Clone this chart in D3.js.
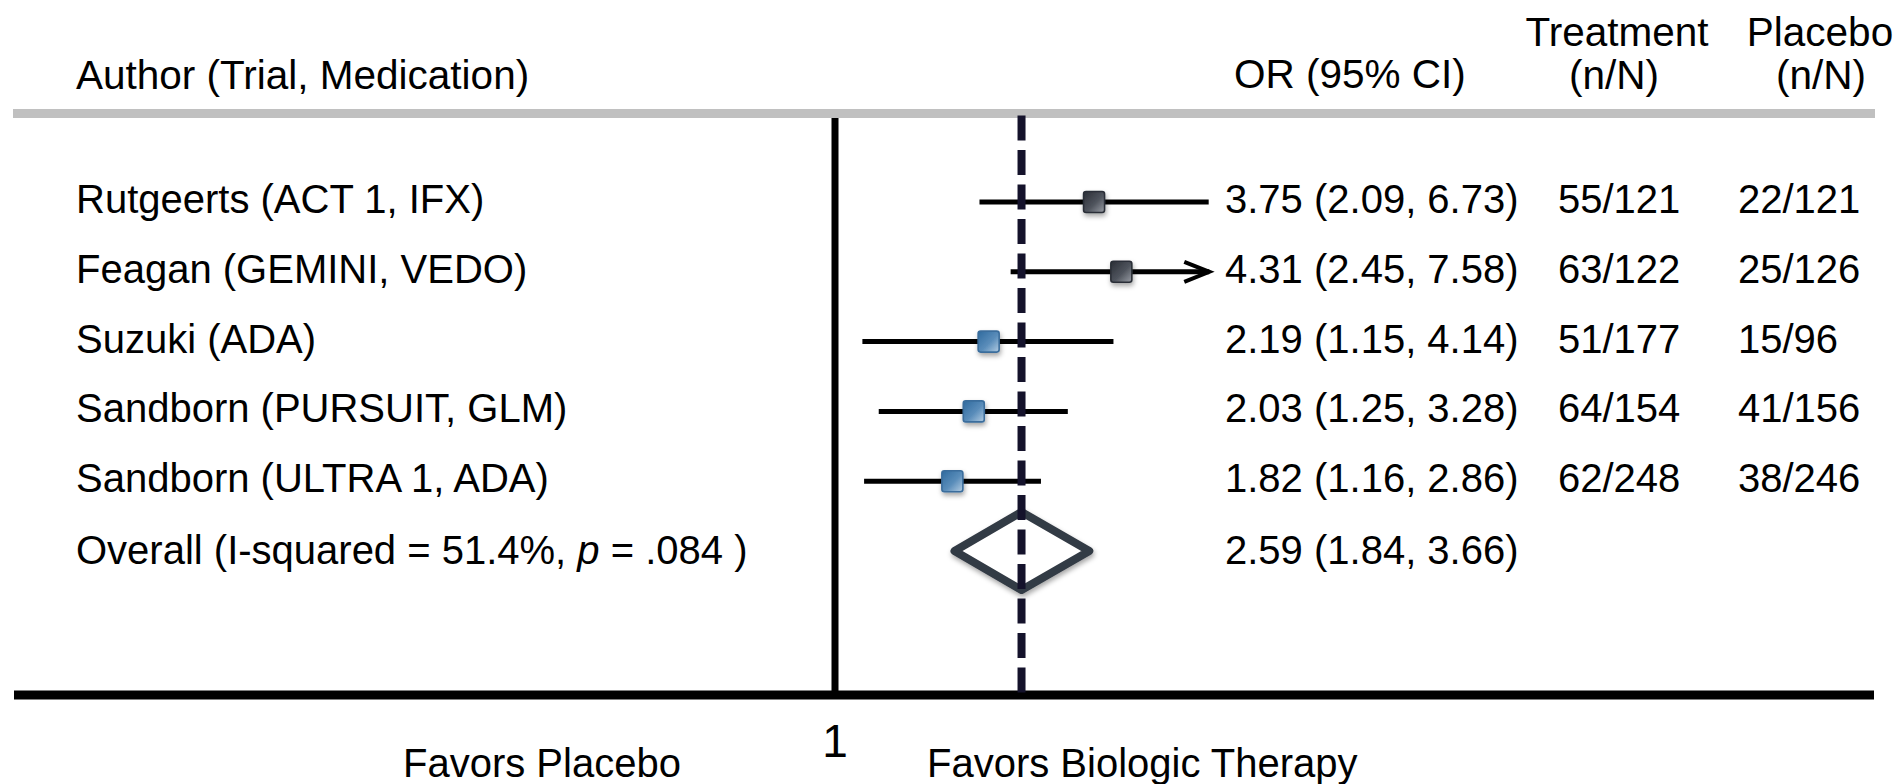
<!DOCTYPE html>
<html>
<head>
<meta charset="utf-8">
<script src="https://cdn.jsdelivr.net/npm/d3@7"></script>
<style>
  html, body { margin: 0; padding: 0; background: #fff; }
  svg { display: block; }
  text { font-family: "Liberation Sans", Arial, Helvetica, sans-serif; fill: #000; }
</style>
</head>
<body>
<svg id="chart" width="1898" height="784"></svg>
<script>
// ---------------- data ----------------
const authors = [
  "Rutgeerts (ACT 1, IFX)",
  "Feagan (GEMINI, VEDO)",
  "Suzuki (ADA)",
  "Sandborn (PURSUIT, GLM)",
  "Sandborn (ULTRA 1, ADA)"
];
const oddsRatios = [3.75, 4.31, 2.19, 2.03, 1.82];
const ciLower    = [2.09, 2.45, 1.15, 1.25, 1.16];
const ciUpper    = [6.73, 7.58, 4.14, 3.28, 2.86];
const treatEvents   = [55, 63, 51, 64, 62];
const treatTotal    = [121, 122, 177, 154, 248];
const placeboEvents = [22, 25, 15, 41, 38];
const placeboTotal  = [121, 126, 96, 156, 246];
const markerKind = ["dark", "dark", "blue", "blue", "blue"];

const overallOR = 2.59, overallLower = 1.84, overallUpper = 3.66;
const iSquared = "51.4%";
const pValue = ".084";

const axisTicks = [1];
const axisMax = 6.75;   // display limit; intervals beyond get an arrow

const headers = {
  study: "Author (Trial, Medication)",
  or: "OR (95% CI)",
  treat: ["Treatment", "(n/N)"],
  placebo: ["Placebo", "(n/N)"]
};
const favorsLeft = "Favors Placebo";
const favorsRight = "Favors Biologic Therapy";

// ---------------- layout ----------------
const svg = d3.select("#chart");
const x = d3.scaleLog().domain([1, axisMax]).range([835, 835 + 196 * Math.log(axisMax)]);
const y = d3.scaleLinear().domain([0, authors.length]).range([202, 551]);
const fmt = d3.format(".2f");

const defs = svg.append("defs");
const shadow = defs.append("filter").attr("id", "shadow")
  .attr("x", "-50%").attr("y", "-50%").attr("width", "200%").attr("height", "200%");
shadow.append("feDropShadow").attr("dx", 1).attr("dy", 3).attr("stdDeviation", 2.5)
  .attr("flood-color", "#000").attr("flood-opacity", 0.35);

const gradDark = defs.append("linearGradient").attr("id", "gDark")
  .attr("x1", "0%").attr("y1", "0%").attr("x2", "100%").attr("y2", "100%");
gradDark.append("stop").attr("offset", "0%").attr("stop-color", "#2a2e36");
gradDark.append("stop").attr("offset", "55%").attr("stop-color", "#4f545d");
gradDark.append("stop").attr("offset", "100%").attr("stop-color", "#9a9ea6");
const gradBlue = defs.append("linearGradient").attr("id", "gBlue")
  .attr("x1", "0%").attr("y1", "0%").attr("x2", "100%").attr("y2", "100%");
gradBlue.append("stop").attr("offset", "0%").attr("stop-color", "#2f6a9e");
gradBlue.append("stop").attr("offset", "55%").attr("stop-color", "#5a8dba");
gradBlue.append("stop").attr("offset", "100%").attr("stop-color", "#b4cde3");

const fs = 40;
const hfs = 40.5;

// header texts
svg.append("text").attr("x", 76).attr("y", 89).attr("font-size", hfs).text(headers.study);
svg.append("text").attr("x", 1234).attr("y", 88).attr("font-size", hfs).text(headers.or);
svg.append("text").attr("x", 1617).attr("y", 46).attr("font-size", hfs).attr("text-anchor", "middle").text(headers.treat[0]);
svg.append("text").attr("x", 1614).attr("y", 89).attr("font-size", hfs).attr("text-anchor", "middle").text(headers.treat[1]);
svg.append("text").attr("x", 1820).attr("y", 46).attr("font-size", hfs).attr("text-anchor", "middle").text(headers.placebo[0]);
svg.append("text").attr("x", 1821).attr("y", 89).attr("font-size", hfs).attr("text-anchor", "middle").text(headers.placebo[1]);

// gray header rule
svg.append("rect").attr("x", 13).attr("y", 109).attr("width", 1862).attr("height", 9).attr("fill", "#c0c0c0");

// bottom axis line and null line at OR = 1
const axisY = 695;
svg.append("line").attr("x1", 14).attr("x2", 1874).attr("y1", axisY).attr("y2", axisY)
  .attr("stroke", "#000").attr("stroke-width", 9);
svg.selectAll(".nullLine").data(axisTicks).join("line")
  .attr("x1", d => x(d)).attr("x2", d => x(d)).attr("y1", 118).attr("y2", axisY)
  .attr("stroke", "#000").attr("stroke-width", 7);

// tick label
svg.selectAll(".tickLabel").data(axisTicks).join("text")
  .attr("x", d => x(d)).attr("y", 757).attr("font-size", 46).attr("text-anchor", "middle")
  .text(d => d);
svg.append("text").attr("x", 403).attr("y", 777).attr("font-size", 40).text(favorsLeft);
svg.append("text").attr("x", 927).attr("y", 777).attr("font-size", 40).text(favorsRight);

// rows
const rows = authors.map((a, i) => ({
  author: a, or: oddsRatios[i], lo: ciLower[i], hi: ciUpper[i],
  te: treatEvents[i], tt: treatTotal[i], pe: placeboEvents[i], pt: placeboTotal[i],
  kind: markerKind[i], i
}));

// CI lines
const ci = svg.append("g");
rows.forEach(r => {
  const yy = y(r.i);
  const clipped = r.hi > axisMax;
  const xr = x(Math.min(r.hi, axisMax));
  ci.append("line").attr("x1", x(r.lo)).attr("x2", xr).attr("y1", yy).attr("y2", yy)
    .attr("stroke", "#000").attr("stroke-width", 5);
  if (clipped) {
    ci.append("path")
      .attr("d", `M${xr - 25},${yy - 10} L${xr},${yy} L${xr - 25},${yy + 10}`)
      .attr("fill", "none").attr("stroke", "#000").attr("stroke-width", 4)
      .attr("stroke-linejoin", "miter");
  }
});

// diamond (overall)
const yo = y(authors.length);
svg.append("path")
  .attr("d", `M${x(overallLower)},${yo} L${x(overallOR)},${yo - 39} L${x(overallUpper)},${yo} L${x(overallOR)},${yo + 39} Z`)
  .attr("fill", "#fff").attr("stroke", "#333a44").attr("stroke-width", 8)
  .attr("stroke-linejoin", "round").attr("filter", "url(#shadow)");

// dashed overall line
svg.append("line").attr("x1", x(overallOR)).attr("x2", x(overallOR))
  .attr("y1", 115.5).attr("y2", axisY)
  .attr("stroke", "#14122b").attr("stroke-width", 8).attr("stroke-dasharray", "25 9.5");

// markers
svg.selectAll(".marker").data(rows).join("rect")
  .attr("x", d => x(d.or) - 10.5).attr("y", d => y(d.i) - 10.5)
  .attr("width", 21).attr("height", 21).attr("rx", 2.5)
  .attr("fill", d => d.kind === "dark" ? "url(#gDark)" : "url(#gBlue)")
  .attr("stroke", d => d.kind === "dark" ? "#2b2f37" : "#3a6d9c")
  .attr("stroke-width", 1.6)
  .attr("filter", "url(#shadow)");

// row texts
const textRows = svg.append("g").attr("font-size", fs);
rows.forEach(r => {
  const yb = y(r.i) + 11;
  textRows.append("text").attr("x", 76).attr("y", yb).text(r.author);
  textRows.append("text").attr("x", 1225).attr("y", yb)
    .text(`${fmt(r.or)} (${fmt(r.lo)}, ${fmt(r.hi)})`);
  textRows.append("text").attr("x", 1558).attr("y", yb).text(`${r.te}/${r.tt}`);
  textRows.append("text").attr("x", 1738).attr("y", yb).text(`${r.pe}/${r.pt}`);
});
// overall row text
const ov = textRows.append("text").attr("x", 76).attr("y", yo + 13);
ov.append("tspan").text(`Overall (I-squared = ${iSquared}, `);
ov.append("tspan").attr("font-style", "italic").text("p");
ov.append("tspan").text(` = ${pValue} )`);
textRows.append("text").attr("x", 1225).attr("y", yo + 13)
  .text(`${fmt(overallOR)} (${fmt(overallLower)}, ${fmt(overallUpper)})`);
</script>
</body>
</html>
